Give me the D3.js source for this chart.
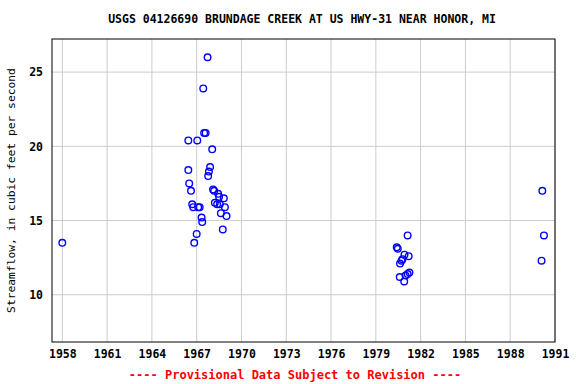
<!DOCTYPE html>
<html>
<head>
<meta charset="utf-8">
<script src="https://cdn.jsdelivr.net/npm/d3@7"></script>
<style>
  body { margin: 0; background: #fff; }
  text { font-family: "DejaVu Sans Mono", monospace; }
</style>
</head>
<body>
<div id="chart"></div>
<script>
const years = [
  1958.0,
  1967.73, 1967.44, 1967.50, 1967.60, 1966.44, 1967.04, 1968.04, 1967.90, 1967.82,
  1967.77, 1966.44, 1966.50, 1966.62, 1968.10, 1968.17, 1968.44, 1968.50, 1968.82,
  1968.22, 1968.37, 1968.55, 1966.70, 1966.77, 1967.10, 1967.20, 1968.89, 1968.62,
  1969.00, 1967.33, 1967.37, 1968.75, 1967.00, 1966.84,
  1981.13, 1980.40, 1980.47, 1980.92, 1981.20, 1980.78, 1980.72, 1980.62,
  1981.25, 1981.13, 1980.99, 1980.60, 1980.90,
  1990.15, 1990.26, 1990.10
];
const flows = [
  13.5,
  26.0, 23.9, 20.9, 20.9, 20.4, 20.4, 19.8, 18.6, 18.3,
  18.0, 18.4, 17.5, 17.0, 17.1, 17.0, 16.8, 16.6, 16.5,
  16.2, 16.1, 16.1, 16.1, 15.9, 15.9, 15.9, 15.9, 15.5,
  15.3, 15.2, 14.9, 14.4, 14.1, 13.5,
  14.0, 13.2, 13.1, 12.7, 12.6, 12.4, 12.3, 12.1,
  11.5, 11.4, 11.3, 11.2, 10.9,
  17.0, 14.0, 12.3
];
const xTicks = [1958, 1961, 1964, 1967, 1970, 1973, 1976, 1979, 1982, 1985, 1988, 1991];
const yTicks = [10, 15, 20, 25];

const width = 576, height = 384;
const margin = { top: 39, right: 21, bottom: 42, left: 52 };

const svg = d3.select('#chart').append('svg')
  .attr('width', width)
  .attr('height', height);

const x = d3.scaleLinear()
  .domain([1957.31, 1991])
  .range([margin.left, width - margin.right]);
const y = d3.scaleLinear()
  .domain([6.82, 27.23])
  .range([height - margin.bottom, margin.top]);

// grid lines
svg.append('g')
  .selectAll('line.gx')
  .data(xTicks)
  .enter().append('line')
  .attr('x1', d => x(d)).attr('x2', d => x(d))
  .attr('y1', margin.top).attr('y2', height - margin.bottom)
  .attr('stroke', '#cccccc').attr('stroke-width', 1);
svg.append('g')
  .selectAll('line.gy')
  .data(yTicks)
  .enter().append('line')
  .attr('x1', margin.left).attr('x2', width - margin.right)
  .attr('y1', d => y(d)).attr('y2', d => y(d))
  .attr('stroke', '#cccccc').attr('stroke-width', 1);

// axes (labels only, frame drawn separately)
const xAxis = svg.append('g')
  .attr('transform', `translate(0,${height - margin.bottom})`)
  .call(d3.axisBottom(x).tickValues(xTicks).tickFormat(d3.format('d')).tickSize(0).tickPadding(8));
const yAxis = svg.append('g')
  .attr('transform', `translate(${margin.left},0)`)
  .call(d3.axisLeft(y).tickValues(yTicks).tickSize(0).tickPadding(9));
[xAxis, yAxis].forEach(a => {
  a.select('.domain').remove();
  a.selectAll('text')
    .attr('font-family', '"DejaVu Sans Mono", monospace')
    .attr('font-size', '11.5px')
    .attr('font-weight', 'bold')
    .attr('fill', '#000');
});

// frame
svg.append('rect')
  .attr('x', margin.left).attr('y', margin.top)
  .attr('width', width - margin.left - margin.right)
  .attr('height', height - margin.top - margin.bottom)
  .attr('fill', 'none').attr('stroke', '#000').attr('stroke-width', 1);

// points
svg.append('g')
  .selectAll('circle')
  .data(years.map((d, i) => ({ yr: d, q: flows[i] })))
  .enter().append('circle')
  .attr('cx', d => x(d.yr))
  .attr('cy', d => y(d.q))
  .attr('r', 3.3)
  .attr('fill', 'none')
  .attr('stroke', '#0000ff')
  .attr('stroke-width', 1.4);

// title
svg.append('text')
  .attr('x', 302)
  .attr('y', 23)
  .attr('text-anchor', 'middle')
  .attr('font-size', '11.5px')
  .attr('font-weight', 'bold')
  .text('USGS 04126690 BRUNDAGE CREEK AT US HWY-31 NEAR HONOR, MI');

// y label
svg.append('text')
  .attr('transform', `translate(15,${(margin.top + height - margin.bottom) / 2}) rotate(-90)`)
  .attr('text-anchor', 'middle')
  .attr('font-size', '11.3px')
  .text('Streamflow, in cubic feet per second');

// footer
svg.append('text')
  .attr('x', 295)
  .attr('y', 379)
  .attr('text-anchor', 'middle')
  .attr('font-size', '12px')
  .attr('font-weight', 'bold')
  .attr('fill', '#ff0000')
  .text('---- Provisional Data Subject to Revision ----');
</script>
</body>
</html>
